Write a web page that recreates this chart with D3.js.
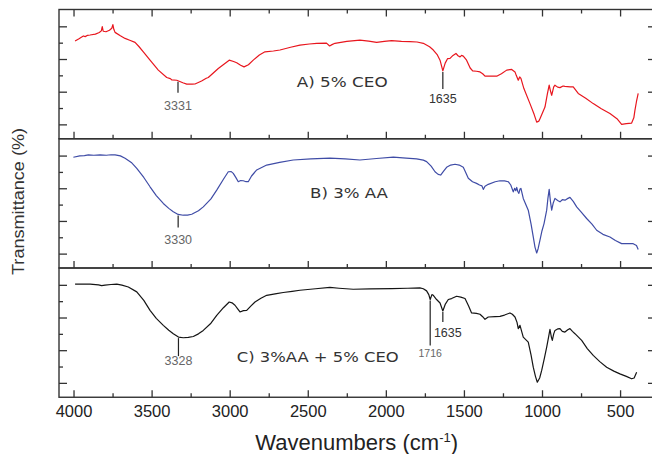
<!DOCTYPE html>
<html>
<head>
<meta charset="utf-8">
<script src="https://cdn.jsdelivr.net/npm/d3@7/dist/d3.min.js"></script>
<style>
  html, body { margin: 0; padding: 0; background: #fff; }
  svg { display: block; }
</style>
</head>
<body>
<svg id="chart" width="652" height="454"></svg>
<script>
// ---- data -------------------------------------------------------------
const majorTicks = [4000, 3500, 3000, 2500, 2000, 1500, 1000, 500];
const minorTicks = [3750, 3250, 2750, 2250, 1750, 1250, 750];
const yMajor = [1, 3, 5, 7];
const yMinor = [2, 4, 6];

const panelLabels = ["A) 5% CEO", "B) 3% AA", "C) 3%AA + 5% CEO"];

// A) film with 5% CEO
const ceoWn = [3990,3965,3950,3937,3925,3910,3894,3860,3835,3822,3816,3810,3792,3770,3755,3748,3742,3734,3700,3670,3640,3606,3580,3553,3510,3457,3403,3380,3370,3339,3300,3275,3240,3222,3180,3150,3137,3073,3003,2975,2955,2930,2908,2880,2849,2810,2774,2720,2678,2610,2550,2490,2443,2380,2360,2345,2326,2250,2166,2110,2059,2010,1963,1900,1846,1800,1760,1720,1696,1670,1653,1635,1620,1605,1589,1570,1551,1538,1525,1515,1504,1483,1460,1444,1420,1397,1380,1365,1330,1290,1260,1226,1194,1173,1165,1152,1143,1135,1116,1077,1050,1034,1020,1013,981,965,954,946,938,925,917,900,885,865,853,820,800,768,720,672,620,565,520,490,460,426,412,405,395,384];
const ceoT  = [6.10,6.24,6.33,6.41,6.37,6.45,6.47,6.52,6.62,6.72,6.98,6.70,6.67,6.76,6.88,7.10,6.82,6.63,6.42,6.26,6.15,6.02,5.75,5.44,4.93,4.32,3.87,3.80,3.72,3.70,3.55,3.46,3.46,3.47,3.65,3.82,3.87,4.42,4.93,4.85,4.77,4.62,4.52,4.65,4.93,5.25,5.44,5.49,5.55,5.72,5.85,5.92,5.96,5.97,5.80,5.88,5.96,6.08,6.16,6.10,6.02,6.08,6.12,6.08,6.06,6.04,5.96,5.75,5.55,5.25,4.93,4.27,4.75,5.02,5.04,5.22,5.34,5.20,5.13,5.22,5.18,4.93,4.45,4.27,4.25,4.21,4.10,3.95,3.96,3.95,4.10,4.32,4.36,4.21,4.00,3.70,3.90,3.81,3.19,2.27,1.60,1.14,1.20,1.35,2.06,2.90,3.40,3.05,2.78,3.30,3.40,3.28,3.25,3.35,3.33,3.30,3.29,2.89,2.60,2.27,1.95,1.66,1.35,1.00,1.05,1.08,1.40,1.86,2.40,2.89];

// B) film with 3% AA
const aaWn = [4001,3960,3930,3905,3870,3830,3790,3760,3734,3700,3670,3630,3595,3550,3510,3470,3425,3390,3361,3330,3297,3270,3243,3200,3169,3120,3083,3040,3009,2990,2977,2960,2945,2930,2913,2895,2881,2860,2827,2763,2680,2593,2480,2358,2260,2166,2060,1952,1870,1803,1760,1739,1710,1685,1665,1649,1630,1611,1585,1557,1530,1504,1490,1472,1445,1419,1400,1385,1376,1365,1344,1300,1269,1240,1216,1200,1184,1175,1168,1162,1155,1148,1141,1135,1120,1088,1070,1056,1045,1034,1025,1013,1000,987,970,962,954,946,938,928,917,900,885,870,853,840,821,800,778,750,714,680,650,610,565,530,490,455,416,395,384];
const aaT  = [6.90,6.98,7.00,7.04,7.02,7.04,7.02,7.05,7.04,6.98,6.84,6.58,6.22,5.66,5.09,4.55,4.07,3.77,3.56,3.40,3.35,3.36,3.41,3.62,3.86,4.35,4.89,5.55,6.01,6.02,5.91,5.65,5.40,5.47,5.46,5.40,5.40,5.75,6.12,6.42,6.58,6.73,6.80,6.84,6.80,6.73,6.82,6.90,6.85,6.80,6.72,6.63,6.35,6.01,5.85,5.81,6.05,6.28,6.42,6.47,6.42,6.28,6.00,5.61,5.40,5.30,5.20,5.15,4.93,5.12,5.24,5.40,5.46,5.45,5.40,5.20,4.78,5.00,4.85,5.05,4.80,4.69,4.95,4.99,4.38,3.66,2.80,2.02,1.40,1.04,1.30,1.82,2.40,2.84,3.66,4.40,4.93,4.20,3.66,4.10,4.38,4.25,4.17,4.30,4.27,4.35,4.44,4.20,3.86,3.55,3.15,2.80,2.43,2.18,2.02,1.80,1.61,1.62,1.61,1.50,1.25];

// C) film with 3% AA + 5% CEO
const mixWn = [3990,3940,3894,3840,3820,3798,3760,3723,3690,3649,3595,3550,3510,3470,3425,3390,3361,3328,3297,3265,3233,3200,3169,3120,3083,3040,3003,2985,2966,2950,2934,2912,2891,2865,2838,2800,2763,2700,2657,2600,2550,2450,2358,2300,2209,2100,1963,1860,1782,1760,1739,1725,1716,1705,1696,1675,1653,1635,1620,1600,1579,1547,1520,1493,1470,1451,1420,1397,1380,1365,1344,1300,1269,1240,1205,1190,1173,1160,1152,1141,1120,1088,1070,1056,1042,1030,1015,1002,985,970,958,949,940,934,925,917,900,885,870,853,835,821,805,789,746,710,672,630,586,540,501,460,426,410,394];
const mixT  = [7.04,7.05,7.04,7.00,6.95,6.98,7.02,7.04,6.98,6.87,6.57,6.05,5.44,4.95,4.52,4.22,4.01,3.80,3.76,3.78,3.84,4.00,4.21,4.65,5.13,5.60,5.95,5.90,5.75,5.55,5.34,5.42,5.44,5.70,5.95,6.18,6.36,6.46,6.53,6.60,6.67,6.76,6.84,6.79,6.73,6.75,6.77,6.79,6.81,6.76,6.63,6.40,6.10,6.40,6.36,6.10,5.89,5.40,5.80,6.10,6.16,6.30,6.25,6.16,5.70,5.28,5.25,5.20,5.05,4.89,5.03,5.05,5.07,5.15,5.28,5.20,5.03,4.70,4.32,4.52,3.80,3.49,2.70,1.96,1.40,1.04,1.30,1.76,2.50,3.19,3.80,4.27,3.80,3.60,4.00,4.21,4.30,4.32,4.15,4.11,4.25,4.32,4.15,4.01,3.60,3.10,2.68,2.30,1.96,1.72,1.55,1.40,1.25,1.30,1.65];

// band assignments marked on the spectra
const peakPanel = [0, 0, 1, 2, 2, 2];
const peakWn    = [3331, 1635, 3330, 3328, 1716, 1635];
const peakText  = ["3331", "1635", "3330", "3328", "1716", "1635"];

// ---- layout ------------------------------------------------------------
const plotLeft = 59, plotRight = 656, plotTop = 9.5, panelH = 129.25;
const colors = ["#e8161e", "#3f4ca6", "#151515"];
const series = [[ceoWn, ceoT], [aaWn, aaT], [mixWn, mixT]];
const labelPos = [{x: 296.7, dy: 77, len: 91}, {x: 310, dy: 59.5, len: 78}, {x: 236.7, dy: 93.5, len: 162}];
// stem length, label gap, label x shift, font size, colour for each band mark
const peakStyle = [
  {stem: 11, gap: 17, dx: 0, fs: 12.5, fill: "#666"},
  {stem: 17, gap: 14, dx: 0, fs: 12.5, fill: "#333"},
  {stem: 12, gap: 17, dx: 0, fs: 12.5, fill: "#666"},
  {stem: 18, gap: 9,  dx: 0, fs: 12.5, fill: "#666"},
  {stem: 45, gap: 11, dx: 0, fs: 10.5, fill: "#666"},
  {stem: 10, gap: 15, dx: 5, fs: 12.5, fill: "#333"}
];

const svg = d3.select("#chart");
const x = d3.scaleLinear().domain([4093, 270]).range([plotLeft, plotRight]);

function interp(wn, t, v) {
  for (let i = 0; i < wn.length - 1; i++) {
    if (v <= wn[i] && v >= wn[i + 1]) {
      const f = (wn[i] - v) / (wn[i] - wn[i + 1]);
      return t[i] + f * (t[i + 1] - t[i]);
    }
  }
  return t[0];
}

const frameColor = "#333";
const styleAxis = sel => {
  sel.select(".domain").remove();
  sel.selectAll("line").attr("stroke", frameColor).attr("stroke-width", 1.3);
};

series.forEach((s, i) => {
  const pTop = plotTop + i * panelH;
  const pBot = pTop + panelH;
  const y = d3.scaleLinear().domain([0.12, 8.03]).range([pBot, pTop]);
  const g = svg.append("g");

  // curve
  const line = d3.line().x((d, k) => x(s[0][k])).y(d => y(d));
  g.append("path")
    .datum(s[1])
    .attr("d", line)
    .attr("fill", "none")
    .attr("stroke", colors[i])
    .attr("stroke-width", 1.2)
    .attr("stroke-linejoin", "round");

  // inward ticks on the left and right edges
  g.append("g").attr("transform", `translate(${plotLeft},0)`)
    .call(d3.axisLeft(y).tickValues(yMajor).tickSize(-8).tickFormat("")).call(styleAxis);
  g.append("g").attr("transform", `translate(${plotLeft},0)`)
    .call(d3.axisLeft(y).tickValues(yMinor).tickSize(-4).tickFormat("")).call(styleAxis);
  g.append("g").attr("transform", `translate(${plotRight},0)`)
    .call(d3.axisRight(y).tickValues(yMajor).tickSize(-8).tickFormat("")).call(styleAxis);

  // inward ticks on the panel bottom
  const last = i === series.length - 1;
  const bottomAxis = g.append("g").attr("transform", `translate(0,${pBot})`)
    .call(d3.axisBottom(x).tickValues(majorTicks).tickSize(-7).tickPadding(8.3)
      .tickFormat(last ? d3.format("d") : ""));
  bottomAxis.call(styleAxis);
  bottomAxis.selectAll("text")
    .attr("font-family", "'Liberation Sans', Arial, sans-serif")
    .attr("font-size", 16.5)
    .attr("fill", "#222");
  g.append("g").attr("transform", `translate(0,${pBot})`)
    .call(d3.axisBottom(x).tickValues(minorTicks).tickSize(-4).tickFormat("")).call(styleAxis);

  if (i === 0) {
    g.append("g").attr("transform", `translate(0,${pTop})`)
      .call(d3.axisTop(x).tickValues(majorTicks).tickSize(-7).tickFormat("")).call(styleAxis);
    g.append("g").attr("transform", `translate(0,${pTop})`)
      .call(d3.axisTop(x).tickValues(minorTicks).tickSize(-4).tickFormat("")).call(styleAxis);
  }

  // panel frame
  g.append("rect")
    .attr("x", plotLeft).attr("y", pTop)
    .attr("width", plotRight - plotLeft).attr("height", panelH)
    .attr("fill", "none").attr("stroke", frameColor).attr("stroke-width", 1.4);

  // sample label
  g.append("text")
    .attr("x", labelPos[i].x).attr("y", pTop + labelPos[i].dy)
    .attr("font-family", "'DejaVu Sans', Verdana, sans-serif")
    .attr("font-size", 14.5)
    .attr("fill", "#333")
    .attr("textLength", labelPos[i].len)
    .attr("lengthAdjust", "spacingAndGlyphs")
    .text(panelLabels[i]);

  // band marks
  peakWn.forEach((wn, k) => {
    if (peakPanel[k] !== i) return;
    const st = peakStyle[k];
    const px = x(wn);
    const y0 = y(interp(s[0], s[1], wn)) + 1;
    const y1 = y0 + st.stem;
    g.append("line")
      .attr("x1", px).attr("x2", px).attr("y1", y0).attr("y2", y1)
      .attr("stroke", "#222").attr("stroke-width", 1.2);
    g.append("text")
      .attr("x", px + st.dx).attr("y", y1 + st.gap)
      .attr("text-anchor", "middle")
      .attr("font-family", "'Liberation Sans', Arial, sans-serif")
      .attr("font-size", st.fs)
      .attr("fill", st.fill)
      .text(peakText[k]);
  });
});

// axis titles
svg.append("text")
  .attr("transform", "translate(24,201.5) rotate(-90)")
  .attr("text-anchor", "middle")
  .attr("font-family", "'Liberation Sans', Arial, sans-serif")
  .attr("font-size", 16)
  .attr("fill", "#333")
  .attr("textLength", 147)
  .attr("lengthAdjust", "spacingAndGlyphs")
  .text("Transmittance (%)");

const xt = svg.append("text")
  .attr("x", 356.7).attr("y", 450)
  .attr("text-anchor", "middle")
  .attr("font-family", "'Liberation Sans', Arial, sans-serif")
  .attr("font-size", 22)
  .attr("fill", "#222");
xt.append("tspan").text("Wavenumbers (cm");
xt.append("tspan").attr("font-size", 13).attr("dy", -8).text("-1");
xt.append("tspan").attr("dy", 8).text(")");
</script>
</body>
</html>
